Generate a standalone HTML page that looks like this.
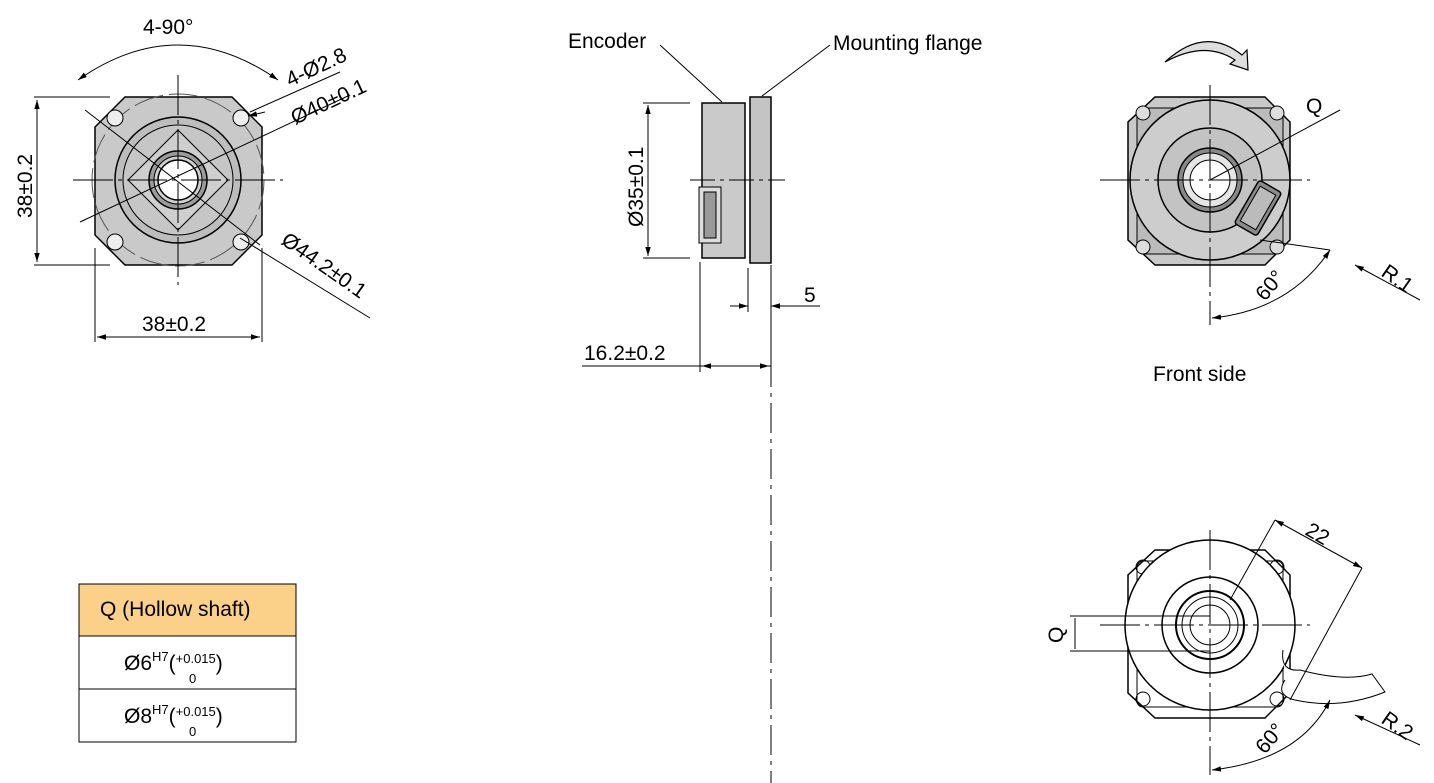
<!DOCTYPE html>
<html><head><meta charset="utf-8"><style>
body{margin:0;background:#fff;}
svg{display:block;font-family:"Liberation Sans",Arial,sans-serif;}
</style></head><body>
<svg width="1434" height="783" viewBox="0 0 1434 783" xmlns="http://www.w3.org/2000/svg">
<defs>
<marker id="a" viewBox="0 0 10 10" refX="10" refY="5" markerWidth="9" markerHeight="9" orient="auto-start-reverse"><path d="M0,2 L10,5 L0,8z" fill="#000"/></marker>
</defs>
<g stroke="#000" stroke-width="1" fill="none">
<!-- LEFT VIEW -->
<path d="M125,97 H232 L262,127 V235 L232,265 H125 L95,235 V127 Z" fill="#c9c9c9" stroke-width="1.5"/>
<circle cx="178" cy="180" r="86" stroke-dasharray="30 6" stroke="#555"/>
<circle cx="178" cy="180" r="63" fill="#bdbdbd" stroke-width="1.5"/>
<circle cx="178" cy="180" r="55" fill="#c6c6c6"/>
<path d="M178,130 L228,180 L178,230 L128,180 Z" fill="#cfcfcf"/>
<circle cx="178" cy="180" r="29" fill="#9a9a9a" stroke-width="1.5"/>
<circle cx="178" cy="180" r="24" fill="#d0d0d0"/>
<circle cx="178" cy="180" r="20" fill="#fff" stroke-width="1.5"/>
<circle cx="115" cy="118" r="8" fill="#eee"/><circle cx="241" cy="118" r="8" fill="#eee"/>
<circle cx="115" cy="242" r="8" fill="#eee"/><circle cx="241" cy="242" r="8" fill="#eee"/>
<path d="M178,75 V285 M73,180 H283" stroke-dasharray="40 5 4 5"/>
<path d="M85,110 L260,245"/>
<path d="M80,222 L350,95"/>
<path d="M250,112 L340,72" />
<path d="M265,112 L248,116" marker-end="url(#a)"/>
<path d="M240,238 L370,318"/>
<path d="M78,80 Q178,10 278,80" marker-start="url(#a)" marker-end="url(#a)"/>
<path d="M34,97 H110 M34,265 H110"/>
<path d="M37,100 V262" marker-start="url(#a)" marker-end="url(#a)"/>
<path d="M95,248 V342 M262,248 V342"/>
<path d="M97,337 H260" marker-start="url(#a)" marker-end="url(#a)"/>
<!-- SIDE VIEW -->
<rect x="702" y="103" width="43" height="155" fill="#cacaca" stroke-width="1.5"/>
<rect x="750" y="97" width="21" height="166" fill="#c4c4c4" stroke-width="1.5"/>
<rect x="699" y="187" width="22" height="56" fill="#ddd"/>
<rect x="704" y="192" width="12" height="46" fill="#999"/>
<path d="M690,180 H785" stroke-dasharray="25 5 4 5"/>
<path d="M771,265 V783" stroke-dasharray="30 6 4 6"/>
<path d="M643,103 H690 M643,258 H690"/>
<path d="M648,105 V256" marker-start="url(#a)" marker-end="url(#a)"/>
<path d="M748,268 V312 M771,268 V370 M700,262 V372"/>
<path d="M730,306 H748" marker-end="url(#a)"/>
<path d="M820,306 H771" marker-end="url(#a)"/>
<path d="M582,366 H771" />
<path d="M712,366 H702" marker-end="url(#a)"/>
<path d="M760,366 H769" marker-end="url(#a)"/>
<path d="M660,45 L722,102"/>
<path d="M830,45 L762,96"/>
<!-- TOP RIGHT -->
<path d="M1155,97 H1265 L1290,122 V240 L1265,265 H1155 L1128,240 V122 Z" fill="#c9c9c9" stroke-width="1.5"/>
<rect x="1137" y="108" width="146" height="146" rx="6" fill="#bbb"/>
<circle cx="1210" cy="180" r="80" fill="#cdcdcd" stroke-width="1.5"/>
<circle cx="1210" cy="180" r="52" fill="#c3c3c3" stroke-width="1.5"/>
<circle cx="1210" cy="180" r="32" fill="#888" stroke-width="1.5"/>
<circle cx="1210" cy="180" r="27" fill="#e5e5e5"/>
<circle cx="1210" cy="180" r="20" fill="#fff"/>
<circle cx="1143" cy="113" r="7" fill="#ddd"/><circle cx="1277" cy="113" r="7" fill="#ddd"/>
<circle cx="1143" cy="247" r="7" fill="#ddd"/><circle cx="1277" cy="247" r="7" fill="#ddd"/>
<g transform="rotate(30 1258 208)"><rect x="1245" y="183" width="26" height="50" rx="3" fill="#8a8a8a" stroke-width="1.5"/><rect x="1249" y="188" width="18" height="40" fill="#bbb"/></g>
<path d="M1210,85 V325 M1100,180 H1310" stroke-dasharray="40 5 4 5"/>
<path d="M1210,180 L1340,110"/>
<path d="M1260,240 L1330,250"/>
<path d="M1212,318 Q1290,310 1330,250" marker-start="url(#a)" marker-end="url(#a)"/>
<path d="M1420,300 L1355,265" marker-end="url(#a)"/>
<path d="M1165,62 Q1205,40 1235,60 L1230,64 L1248,70 L1247,50 L1242,55 Q1205,25 1165,62Z" fill="#ddd" stroke-width="1.2"/>
<!-- BOTTOM RIGHT -->
<path d="M1155,550 H1265 L1290,575 V693 L1265,718 H1155 L1128,693 V575 Z" fill="#fff" stroke-width="1.5"/>
<rect x="1137" y="561" width="146" height="146" rx="6"/>
<circle cx="1143" cy="567" r="7"/><circle cx="1277" cy="567" r="7"/>
<circle cx="1143" cy="699" r="7"/><circle cx="1277" cy="699" r="7"/>
<circle cx="1210" cy="625" r="85" fill="#fff" stroke-width="1.5"/>
<path d="M1283,650 Q1280,672 1300,670 Q1345,682 1372,674 L1385,692 Q1340,710 1295,700 Q1275,695 1285,680" fill="#fff"/>
<circle cx="1210" cy="625" r="48" stroke-width="1.5"/>
<circle cx="1210" cy="625" r="34" stroke-width="2"/>
<circle cx="1210" cy="625" r="28"/>
<circle cx="1210" cy="625" r="20"/>
<path d="M1210,530 V775 M1100,625 H1310" stroke-dasharray="40 5 4 5"/>
<path d="M1070,616 H1210 M1070,651 H1210 M1075,618 V649"/>
<path d="M1230,600 L1275,520 M1290,700 L1362,568"/>
<path d="M1275,520 L1362,568" marker-start="url(#a)" marker-end="url(#a)"/>
<path d="M1212,770 Q1300,760 1330,700" marker-start="url(#a)" marker-end="url(#a)"/>
<path d="M1420,745 L1355,715" marker-end="url(#a)"/>
<!-- TABLE -->
<rect x="79" y="584" width="217" height="52" fill="#fbd089"/>
<rect x="79" y="636" width="217" height="53"/>
<rect x="79" y="689" width="217" height="53"/>
</g>
<g font-size="21" fill="#000">
<text x="143" y="34">4-90°</text>
<text x="0" y="0" transform="translate(290,87) rotate(-25)">4-Ø2.8</text>
<text x="0" y="0" transform="translate(295,125) rotate(-25)">Ø40±0.1</text>
<text x="0" y="0" transform="translate(280,243) rotate(35)">Ø44.2±0.1</text>
<text x="0" y="0" transform="translate(32,218) rotate(-90)">38±0.2</text>
<text x="142" y="331">38±0.2</text>
<text x="568" y="48">Encoder</text>
<text x="833" y="50">Mounting flange</text>
<text x="0" y="0" transform="translate(643,227) rotate(-90)">Ø35±0.1</text>
<text x="804" y="302">5</text>
<text x="584" y="360">16.2±0.2</text>
<text x="1306" y="113">Q</text>
<text x="0" y="0" transform="translate(1265,302) rotate(-50)">60°</text>
<text x="0" y="0" transform="translate(1380,275) rotate(35)">R.1</text>
<text x="1153" y="381">Front side</text>
<text x="0" y="0" transform="translate(1304,534) rotate(30)">22</text>
<text x="0" y="0" transform="translate(1063,643) rotate(-90)">Q</text>
<text x="0" y="0" transform="translate(1265,755) rotate(-50)">60°</text>
<text x="0" y="0" transform="translate(1380,722) rotate(35)">R.2</text>
<text x="100" y="616">Q (Hollow shaft)</text>
<text x="124" y="670">Ø6<tspan font-size="13" dy="-9">H7</tspan><tspan dy="9">(</tspan><tspan font-size="13" dy="-7">+0.015</tspan><tspan dy="7">)</tspan></text>
<text x="189" y="683" font-size="13">0</text>
<text x="124" y="723">Ø8<tspan font-size="13" dy="-9">H7</tspan><tspan dy="9">(</tspan><tspan font-size="13" dy="-7">+0.015</tspan><tspan dy="7">)</tspan></text>
<text x="189" y="736" font-size="13">0</text>
</g>
</svg>
</body></html>
